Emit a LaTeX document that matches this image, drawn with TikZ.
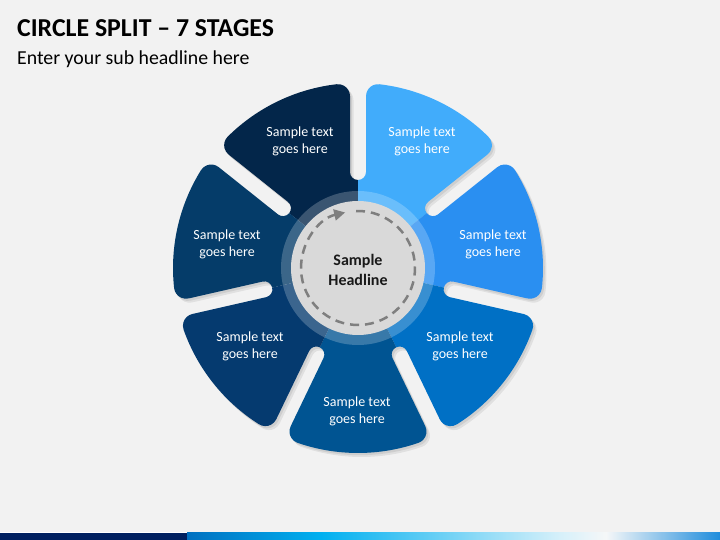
\documentclass[tikz,border=0pt]{standalone}
\usepackage{fontspec}
\setmainfont{Carlito}
\usetikzlibrary{calc,arrows.meta}
\definecolor{bg}{HTML}{F2F2F2}
\definecolor{segA}{HTML}{03264A}
\definecolor{segB}{HTML}{41ACFB}
\definecolor{segC}{HTML}{2A8FF1}
\definecolor{segD}{HTML}{0070C5}
\definecolor{segE}{HTML}{005492}
\definecolor{segF}{HTML}{053A6F}
\definecolor{segG}{HTML}{053C69}
\definecolor{circfill}{HTML}{D9D9D9}
\definecolor{dashcol}{HTML}{7F7F7F}
\definecolor{barnavy}{HTML}{002060}
\definecolor{barblue}{HTML}{0070C0}
\definecolor{barcyan}{HTML}{00B0F0}
\definecolor{barlight}{HTML}{D6F0FA}
\definecolor{barwhite}{HTML}{F5F7F8}
\definecolor{barend}{HTML}{1E8CDC}
% segment outline: \p = clockwise edge angle, \q = counter-clockwise edge angle
\newcommand\mysegpath{(0,0) -- (\p:88) arc[start angle=\p+180, end angle=\p+90, radius=8]
  -- ($(\p:171.84)+(\p+90:8)$) arc[start angle=\p-90, end angle=\p+6.64, radius=12]
  arc[start angle=\p+6.64, end angle=\q-6.64, radius=185]
  arc[start angle=\q-6.64, end angle=\q+90, radius=12]
  -- ($(\q:96)+(\q-90:8)$) arc[start angle=\q-90, end angle=\q-180, radius=8] -- cycle}
\begin{document}
\begin{tikzpicture}[x=1pt,y=1pt,
  segtext/.style={text=white, font=\fontsize{14}{17}\selectfont, align=center, inner sep=0pt},
  headtext/.style={text=black!90, font=\fontsize{16}{19.5}\selectfont\bfseries, align=center, inner sep=0pt}]
\fill[bg] (0,0) rectangle (720,540);
\useasboundingbox (0,0) rectangle (720,540);
% titles
\node[anchor=base west, inner sep=0pt, font=\fontsize{25.8}{30}\selectfont\bfseries] (title) at (17,503.3) {CIRCLE SPLIT – 7 STAGES};
\node[anchor=base west, inner sep=0pt, font=\fontsize{19.8}{24}\selectfont] (sub) at (17,475) {Enter your sub headline here};
% diagram
\begin{scope}[shift={(358,272)}]
  \foreach \c in {115.714,64.286,12.857,-38.571,-90,-141.429,167.143}{
    \pgfmathsetmacro\p{\c-25.714}
    \pgfmathsetmacro\q{\c+25.714}
    \fill[black, opacity=0.07, shift={(3.5,-4)}] \mysegpath;
    \fill[black, opacity=0.08, shift={(1.8,-2.2)}] \mysegpath;
  }
  \foreach \c/\col in {115.714/segA,64.286/segB,12.857/segC,-38.571/segD,-90/segE,-141.429/segF,167.143/segG}{
    \pgfmathsetmacro\p{\c-25.714}
    \pgfmathsetmacro\q{\c+25.714}
    \fill[\col] \mysegpath;
  }
  \fill[white, opacity=0.22] (0,0) circle[radius=77];
  \fill[circfill] (0,0) circle[radius=67];
  \draw[dashcol, line width=2.5pt, dash pattern=on 9pt off 6pt, -{Triangle[length=11pt,width=11pt]}]
    (92:57) arc[start angle=92, end angle=-257, radius=57];
\end{scope}
\node[headtext] (head) at (358,270) {Sample\\Headline};
\node[segtext] (t1) at (300,399) {Sample text\\goes here};
\node[segtext] (t2) at (422,399) {Sample text\\goes here};
\node[segtext] (t3) at (493,296) {Sample text\\goes here};
\node[segtext] (t4) at (460,194) {Sample text\\goes here};
\node[segtext] (t5) at (357,129) {Sample text\\goes here};
\node[segtext] (t6) at (250,194) {Sample text\\goes here};
\node[segtext] (t7) at (227,296) {Sample text\\goes here};
% bottom bar
\fill[white] (0,7) rectangle (720,8);
\fill[barnavy] (0,0) rectangle (187,7);
\shade[left color=barblue, right color=barcyan] (187,0) rectangle (321,7);
\shade[left color=barcyan, right color=barlight] (321,0) rectangle (560,7);
\shade[left color=barlight, right color=barwhite] (560,0) rectangle (606,7);
\shade[left color=barwhite, right color=barend] (606,0) rectangle (720,7);
\end{tikzpicture}
\end{document}
